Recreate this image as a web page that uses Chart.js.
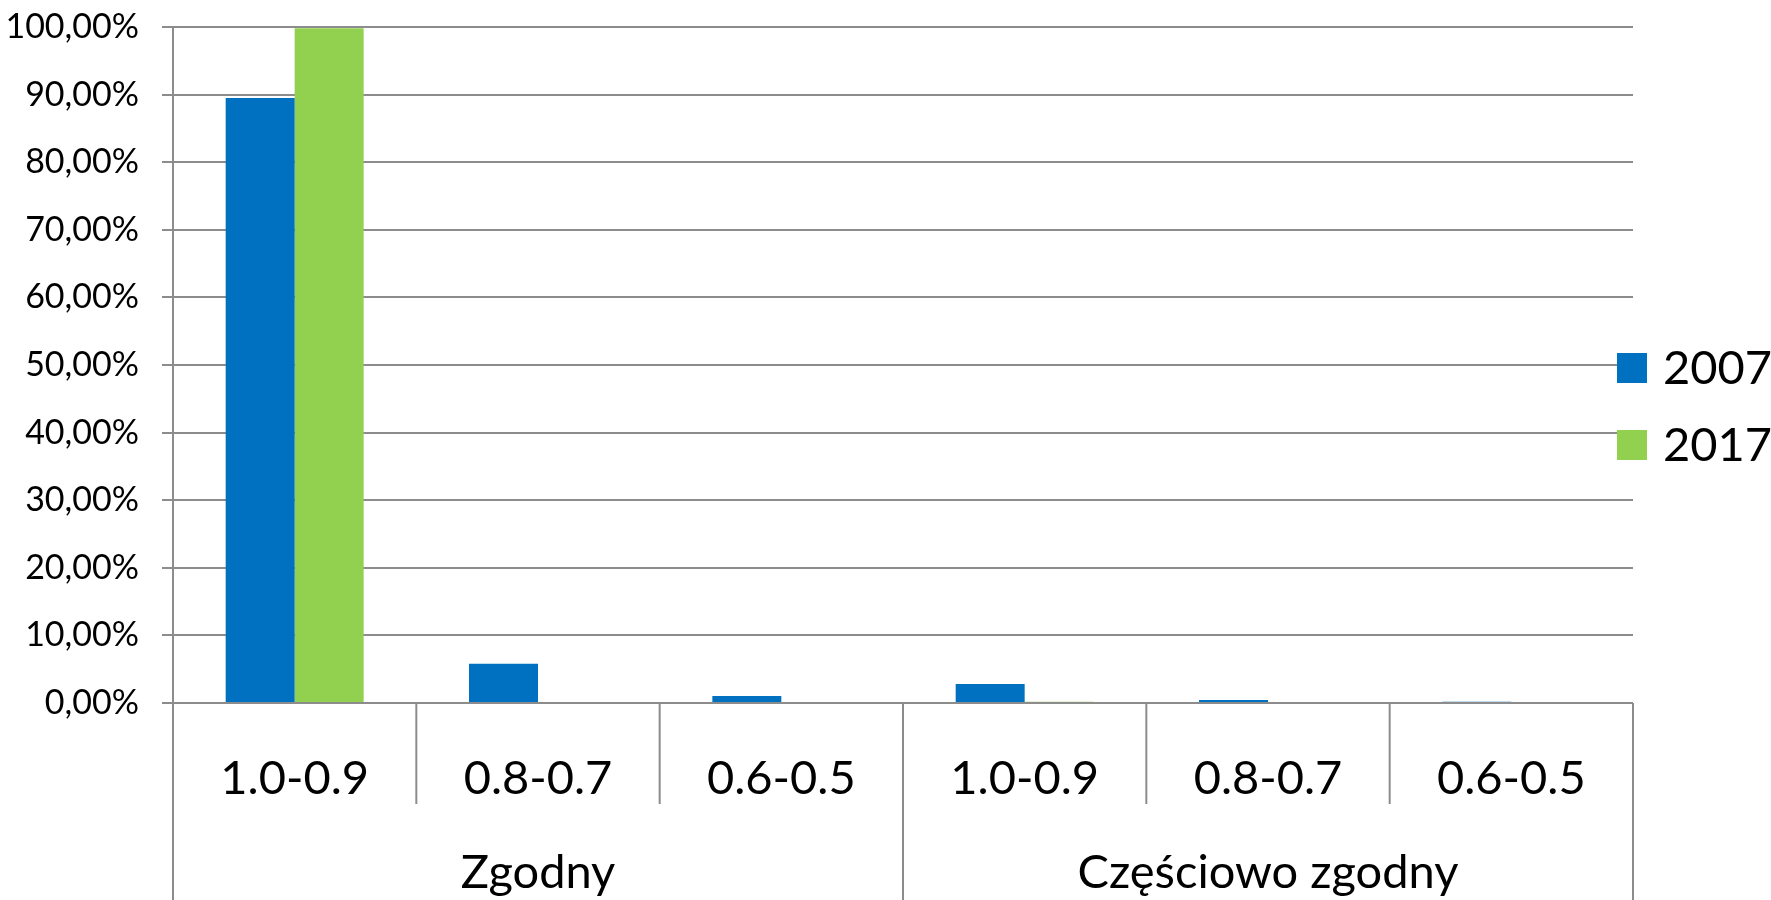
<!DOCTYPE html>
<html>
<head>
<meta charset="utf-8">
<script src="https://cdn.jsdelivr.net/npm/chart.js@4.4.1/dist/chart.umd.min.js"></script>
<style>
  html, body { margin: 0; padding: 0; background: #fff; }
  #wrap { width: 1771px; height: 900px; position: relative; }
</style>
</head>
<body>
<div id="wrap"><canvas id="mainCanvas"></canvas></div>
<script>
// score ranges, grouped in threes under the two match types
const ranges = ["1.0-0.9", "0.8-0.7", "0.6-0.5", "1.0-0.9", "0.8-0.7", "0.6-0.5"];
const groups = ["Zgodny", "Częściowo zgodny"];
const groupSize = 3;

const years = ["2007", "2017"];
const values2007 = [89.5, 5.8, 1.05, 2.8, 0.45, 0.2];
const values2017 = [99.8, 0, 0, 0.2, 0, 0];
const colors = ["#0070c0", "#92d050"];

const lineColor = "#8c8c8c";

function pct(v) {
    return v.toFixed(2).replace(".", ",") + "%";
}

// separators under the x axis and the group names
const groupAxis = {
    id: "groupAxis",
    afterDraw(chart) {
        const ctx = chart.ctx;
        const x = chart.scales.x;
        const area = chart.chartArea;
        const half = (x.getPixelForTick(1) - x.getPixelForTick(0)) / 2;
        ctx.save();
        ctx.strokeStyle = lineColor;
        ctx.lineWidth = 2;
        for (let i = 0; i <= ranges.length; i++) {
            let px;
            if (i < ranges.length) px = x.getPixelForTick(i) - half;
            else px = x.getPixelForTick(ranges.length - 1) + half;
            const end = (i % groupSize === 0) ? chart.height : area.bottom + 101;
            ctx.beginPath();
            ctx.moveTo(px, area.bottom);
            ctx.lineTo(px, end);
            ctx.stroke();
        }
        ctx.fillStyle = "#000";
        ctx.font = "47px Lato";
        ctx.textAlign = "center";
        ctx.textBaseline = "middle";
        groups.forEach((g, gi) => {
            const first = x.getPixelForTick(gi * groupSize) - half;
            const last = x.getPixelForTick(gi * groupSize + groupSize - 1) + half;
            ctx.fillText(g, (first + last) / 2, area.bottom + 170);
        });
        ctx.restore();
    }
};

// legend to the right of the plot
const sideLegend = {
    id: "sideLegend",
    afterDraw(chart) {
        const ctx = chart.ctx;
        const area = chart.chartArea;
        ctx.save();
        ctx.font = "47px Lato";
        ctx.textBaseline = "middle";
        ctx.textAlign = "left";
        chart.data.datasets.forEach((ds, i) => {
            const cy = area.top + 341 + i * 77;
            ctx.fillStyle = ds.backgroundColor;
            ctx.fillRect(area.right - 16, cy - 15, 30, 30);
            ctx.fillStyle = "#000";
            ctx.fillText(ds.label, area.right + 30, cy + 1);
        });
        ctx.restore();
    }
};

let chart = new Chart(
    document.getElementById("mainCanvas"),
    {
        type: "bar",
        data: {
            labels: ranges,
            datasets: [
                { label: years[0], data: values2007, backgroundColor: colors[0] },
                { label: years[1], data: values2017, backgroundColor: colors[1] }
            ]
        },
        options: {
            responsive: true,
            maintainAspectRatio: false,
            animation: false,
            categoryPercentage: 0.567,
            barPercentage: 1.0,
            layout: { padding: { top: 27, right: 138, left: 0, bottom: 0 } },
            plugins: {
                legend: { display: false },
                tooltip: { enabled: false }
            },
            scales: {
                x: {
                    grid: { display: false },
                    border: { display: false },
                    ticks: {
                        color: "#000",
                        font: { family: "Lato", size: 47 },
                        padding: 40,
                        maxRotation: 0
                    },
                    afterFit(scale) { scale.height = 197; }
                },
                y: {
                    min: 0,
                    max: 100,
                    grid: { color: lineColor, lineWidth: 2, tickLength: 11 },
                    border: { display: true, color: lineColor, width: 2 },
                    ticks: {
                        stepSize: 10,
                        color: "#000",
                        font: { family: "Lato", size: 34 },
                        padding: 23,
                        callback: (v) => pct(v)
                    },
                    afterFit(scale) {
                        scale.width = 173;
                        scale.paddingTop = 0;
                        scale.paddingBottom = 0;
                    }
                }
            }
        },
        plugins: [groupAxis, sideLegend]
    }
);
</script>
</body>
</html>
